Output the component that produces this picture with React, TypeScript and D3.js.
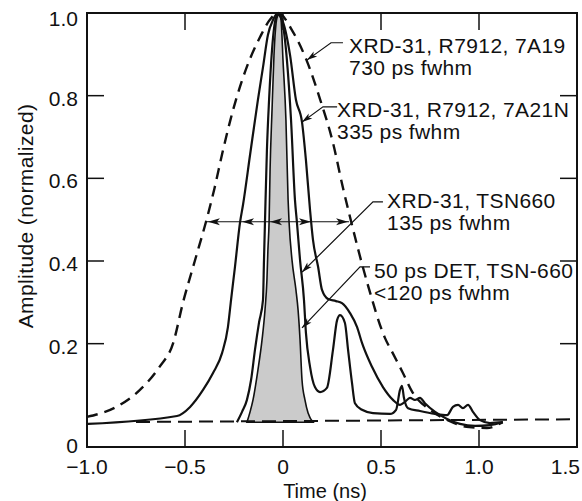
import React from 'react'
import * as d3 from 'd3'

// readings: [time (ns), amplitude]
const xrd7A19: [number, number][] = [
  [-1.0, 0.023], [-0.85, 0.047], [-0.73, 0.088], [-0.63, 0.144], [-0.56, 0.202],
  [-0.51, 0.3], [-0.45, 0.4], [-0.39, 0.5], [-0.35, 0.575], [-0.31, 0.66],
  [-0.255, 0.765], [-0.185, 0.869], [-0.117, 0.942], [-0.065, 0.985], [-0.025, 1.0],
  [0.05, 0.955], [0.12, 0.886], [0.19, 0.79], [0.255, 0.686], [0.305, 0.579],
  [0.34, 0.51], [0.43, 0.347], [0.52, 0.214], [0.56, 0.177], [0.61, 0.131],
  [0.66, 0.083], [0.75, 0.04], [0.84, 0.015], [0.95, -0.002], [1.04, -0.004], [1.12, 0.01],
]

const xrd7A21N: [number, number][] = [
  [-0.995, 0.006], [-0.541, 0.025], [-0.474, 0.047], [-0.408, 0.088], [-0.357, 0.129],
  [-0.311, 0.177], [-0.281, 0.24], [-0.265, 0.306], [-0.245, 0.386], [-0.219, 0.494],
  [-0.204, 0.536], [-0.168, 0.657], [-0.128, 0.79], [-0.102, 0.869], [-0.077, 0.947],
  [-0.051, 0.983], [-0.031, 0.998], [0.0, 0.978], [0.036, 0.898], [0.066, 0.79],
  [0.097, 0.736], [0.117, 0.644], [0.138, 0.523], [0.153, 0.451], [0.179, 0.386],
  [0.199, 0.33], [0.23, 0.308], [0.27, 0.303], [0.301, 0.298], [0.342, 0.274],
  [0.378, 0.24], [0.403, 0.202], [0.454, 0.144], [0.51, 0.095], [0.561, 0.064],
  [0.597, 0.052], [0.622, 0.059], [0.648, 0.069], [0.673, 0.064], [0.699, 0.069],
  [0.724, 0.056], [0.776, 0.035], [0.837, 0.018], [0.903, 0.006], [0.98, 0.001],
  [1.056, 0.003], [1.122, 0.01],
]

const xrdTSN660: [number, number][] = [
  [-0.235, 0.01], [-0.209, 0.035], [-0.184, 0.064], [-0.163, 0.112], [-0.143, 0.185],
  [-0.122, 0.252], [-0.102, 0.306], [-0.097, 0.402], [-0.092, 0.494], [-0.082, 0.669],
  [-0.071, 0.79], [-0.056, 0.911], [-0.036, 0.988], [-0.02, 0.998], [-0.005, 0.983],
  [0.02, 0.886], [0.041, 0.741], [0.061, 0.548], [0.071, 0.494], [0.087, 0.402],
  [0.107, 0.306], [0.117, 0.226], [0.138, 0.144], [0.163, 0.095], [0.189, 0.083],
  [0.224, 0.093], [0.255, 0.185], [0.276, 0.257], [0.291, 0.269], [0.316, 0.25],
  [0.332, 0.185], [0.352, 0.105], [0.367, 0.056], [0.403, 0.04], [0.459, 0.032],
  [0.546, 0.03], [0.577, 0.04], [0.597, 0.088], [0.607, 0.098], [0.617, 0.069],
  [0.638, 0.044], [0.699, 0.037], [0.776, 0.03], [0.837, 0.027], [0.867, 0.047],
  [0.893, 0.052], [0.918, 0.044], [0.944, 0.052], [0.969, 0.035], [1.005, 0.015],
  [1.056, 0.008], [1.122, 0.01],
]

const det50ps: [number, number][] = [
  [-0.184, 0.01], [-0.168, 0.035], [-0.153, 0.064], [-0.128, 0.136], [-0.107, 0.209],
  [-0.092, 0.281], [-0.082, 0.354], [-0.077, 0.427], [-0.071, 0.494], [-0.066, 0.62],
  [-0.056, 0.765], [-0.046, 0.898], [-0.031, 0.988], [-0.02, 0.998], [-0.01, 0.983],
  [0.0, 0.886], [0.015, 0.741], [0.026, 0.548], [0.031, 0.494], [0.046, 0.402],
  [0.066, 0.33], [0.077, 0.281], [0.087, 0.209], [0.097, 0.112], [0.112, 0.064],
  [0.128, 0.032], [0.153, 0.01],
]

const baseline: [number, number][] = [[-0.75, 0.0105], [1.5, 0.017]]

const xTicks = [-1.0, -0.5, 0, 0.5, 1.0, 1.5]
const xTickLabels = ['\u22121.0', '\u22120.5', '0', '0.5', '1.0', '1.5']
const yTicks = [-0.05, 0.2, 0.4, 0.6, 0.8, 1.0]
const yTickLabels = ['0', '0.2', '0.4', '0.6', '0.8', '1.0']
const innerX = [-0.5, 0, 0.5, 1.0]
const innerY = [0.2, 0.4, 0.6, 0.8]

// fwhm bar at half maximum, arrow tips [time, direction]
const fwhmLevel = 0.495
const fwhmSpan = [-0.388, 0.337]
const fwhmTips: [number, number][] = [[-0.383, -1], [-0.209, -1], [-0.066, -1], [0.143, 1], [0.332, 1]]

// labels: text lines, text anchor [t, v], leader path [t, v]...
const labels = [
  { lines: ['XRD-31, R7912, 7A19', '730 ps fwhm'], at: [0.337, 0.903], leader: [[0.306, 0.928], [0.245, 0.928], [0.122, 0.886]] },
  { lines: ['XRD-31, R7912, 7A21N', '335 ps fwhm'], at: [0.276, 0.748], leader: [[0.276, 0.773], [0.204, 0.773], [0.097, 0.736]] },
  { lines: ['XRD-31, TSN660', '135 ps fwhm'], at: [0.531, 0.528], leader: [[0.51, 0.543], [0.459, 0.543], [0.097, 0.373]] },
  { lines: ['50 ps DET, TSN-660', '<120 ps fwhm'], at: [0.464, 0.359], leader: [[0.444, 0.386], [0.393, 0.386], [0.097, 0.238]] },
]

const font = '"Liberation Sans", Arial, sans-serif'

export default function App() {
  const W = 582
  const H = 501
  const x = d3.scaleLinear().domain([-1, 1.5]).range([87, 577])
  const y = d3.scaleLinear().domain([-0.05, 1]).range([447, 13])

  const line = d3.line<[number, number]>()
    .x(d => x(d[0]))
    .y(d => y(d[1]))
    .curve(d3.curveMonotoneX)
  const straight = d3.line<number[]>().x(d => x(d[0])).y(d => y(d[1]))

  const [x0, x1] = x.range()
  const [yb, yt] = y.range()
  const tickLen = 17

  return (
    <svg width={W} height={H} style={{ position: 'absolute', left: 0, top: 0, background: '#fff' }}
      fontFamily={font}>
      <defs>
        <marker id="ah" viewBox="0 0 12 8" refX="12" refY="4" markerWidth="11" markerHeight="7"
          markerUnits="userSpaceOnUse" orient="auto">
          <path d="M0,0.5 L12,4 L0,7.5 L3,4 z" fill="#111" />
        </marker>
      </defs>

      {/* 50 ps DET shaded pulse */}
      <path d={line(det50ps) + 'Z'} fill="#cbcbcb" stroke="#111" strokeWidth={1.6} />

      <path d={line(baseline)!} fill="none" stroke="#111" strokeWidth={2} strokeDasharray="14,7" />
      <path d={line(xrd7A19)!} fill="none" stroke="#111" strokeWidth={2.4} strokeDasharray="11,7" />
      <path d={line(xrd7A21N)!} fill="none" stroke="#111" strokeWidth={2.2} />
      <path d={line(xrdTSN660)!} fill="none" stroke="#111" strokeWidth={2.2} />

      {/* fwhm bar */}
      <line x1={x(fwhmSpan[0])} x2={x(fwhmSpan[1])} y1={y(fwhmLevel)} y2={y(fwhmLevel)}
        stroke="#111" strokeWidth={1.2} />
      {fwhmTips.map(([t, dir], i) => {
        const px = x(t)
        const py = y(fwhmLevel)
        return (
          <path key={i} fill="#111"
            d={`M${px},${py} L${px - dir * 12},${py - 3.5} L${px - dir * 9},${py} L${px - dir * 12},${py + 3.5} Z`} />
        )
      })}

      {/* frame */}
      <rect x={x0} y={yt} width={x1 - x0} height={yb - yt} fill="none" stroke="#111" strokeWidth={2} />
      {innerY.map(v => (
        <g key={'y' + v}>
          <line x1={x0} x2={x0 + tickLen} y1={y(v)} y2={y(v)} stroke="#111" strokeWidth={1.5} />
          <line x1={x1} x2={x1 - tickLen} y1={y(v)} y2={y(v)} stroke="#111" strokeWidth={1.5} />
        </g>
      ))}
      {innerX.map(t => (
        <g key={'x' + t}>
          <line x1={x(t)} x2={x(t)} y1={yb} y2={yb - tickLen} stroke="#111" strokeWidth={1.5} />
          <line x1={x(t)} x2={x(t)} y1={yt} y2={yt + tickLen} stroke="#111" strokeWidth={1.5} />
        </g>
      ))}

      {/* tick labels */}
      {yTicks.map((v, i) => (
        <text key={'yl' + v} x={x0 - 9} y={i === 0 ? y(v) + 6 : Math.max(y(v) + 10, 26)} textAnchor="end"
          fontSize={21} fill="#111">
          {yTickLabels[i]}
        </text>
      ))}
      {xTicks.map((t, i) => (
        <text key={'xl' + t} x={i === xTicks.length - 1 ? W - 2 : x(t)} y={474}
          textAnchor={i === xTicks.length - 1 ? 'end' : 'middle'} fontSize={21} fill="#111">
          {xTickLabels[i]}
        </text>
      ))}

      <text x={325} y={498} textAnchor="middle" fontSize={20} fill="#111">Time (ns)</text>
      <text transform="translate(33,216) rotate(-90)" textAnchor="middle" fontSize={21}
        letterSpacing={0.4} fill="#111">Amplitude (normalized)</text>

      {/* annotations */}
      {labels.map((lb, i) => (
        <g key={'lb' + i}>
          <path d={straight(lb.leader)!} fill="none" stroke="#111" strokeWidth={1.2} markerEnd="url(#ah)" />
          {lb.lines.map((s, j) => (
            <text key={j} x={x(lb.at[0])} y={y(lb.at[1]) + j * 22} fontSize={21} letterSpacing={0.4} fill="#111">
              {s}
            </text>
          ))}
        </g>
      ))}
    </svg>
  )
}
